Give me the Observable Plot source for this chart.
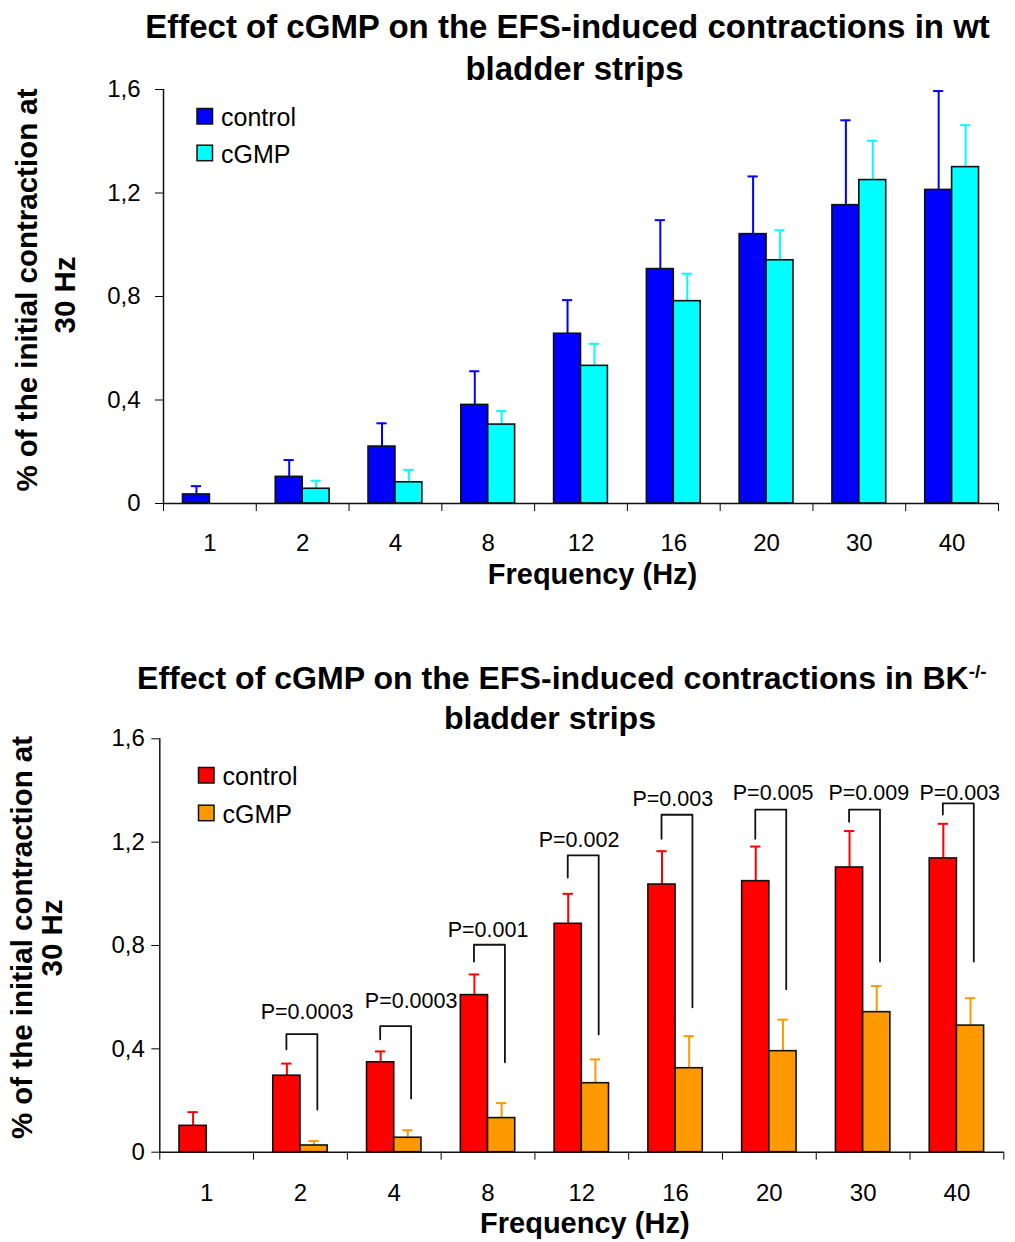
<!DOCTYPE html>
<html><head><meta charset="utf-8">
<script src="https://cdn.jsdelivr.net/npm/d3@7"></script>
<script src="https://cdn.jsdelivr.net/npm/@observablehq/plot@0.6"></script>
<style>
body{margin:0;background:#fff;}
#wrap{position:relative;width:1015px;height:1242px;overflow:hidden;font-family:"Liberation Sans",Arial,sans-serif;}
#wrap svg{position:absolute;left:0;}
</style></head><body><div id="wrap"></div>
<script>
// ---------- data ----------
const categories = ["1","2","4","8","12","16","20","30","40"];
const seriesNames = ["control","cGMP"];
const yTicks = [0, 0.4, 0.8, 1.2, 1.6];

// wt bladder strips
const wtControl    = [0.035,0.103,0.220,0.381,0.656,0.906,1.041,1.153,1.212];
const wtControlErr = [0.032,0.065,0.090,0.130,0.130,0.189,0.223,0.328,0.382];
const wtCgmp       = [0,    0.057,0.082,0.305,0.532,0.782,0.940,1.250,1.300];
const wtCgmpErr    = [0,    0.031,0.048,0.052,0.085,0.106,0.116,0.152,0.162];

// BK-/- bladder strips
const bkControl    = [0.102,0.296,0.348,0.608,0.884,1.036,1.049,1.102,1.137];
const bkControlErr = [0.053,0.047,0.042,0.080,0.116,0.129,0.134,0.141,0.134];
const bkCgmp       = [0,    0.026,0.056,0.132,0.267,0.325,0.391,0.542,0.490];
const bkCgmpErr    = [0,    0.017,0.029,0.058,0.092,0.124,0.122,0.101,0.106];

// significance annotations (BK-/-)
const pCategories     = ["2","4","8","12","16","20","30","40"];
const pLabels         = ["P=0.0003","P=0.0003","P=0.001","P=0.002","P=0.003","P=0.005","P=0.009","P=0.003"];
const bracketTop      = [0.457,0.488,0.803,1.149,1.306,1.326,1.326,1.350];
const bracketLeftEnd  = [0.398,0.437,0.738,1.063,1.213,1.213,1.279,1.307];
const bracketRightEnd = [0.165,0.208,0.348,0.456,0.561,0.631,0.738,0.738];
const pLabelY         = [0.541,0.585,0.858,1.207,1.368,1.390,1.390,1.390];
const pLabelShift     = [0.07,0.18,0,-0.03,-0.03,0.04,0.06,0.03];

// ---------- styling constants ----------
const FONT = "Liberation Sans, Arial, sans-serif";
const BW = 0.29;      // bar width in category units
const CAP = 0.055;    // half width of error caps
const LEG_L = -0.15, LEG_R = 0.18;

function rowsFor(values, errs) {
  return categories.map((c, i) => ({cat: c, i, value: values[i], err: errs[i]})).filter(d => d.value > 0);
}

function seriesMarks(rows, offsetSign, color) {
  const cx = d => d.i + offsetSign * BW / 2;
  return [
    Plot.ruleX(rows, {x: cx, y1: "value", y2: d => d.value + d.err, stroke: color, strokeWidth: 2}),
    Plot.ruleY(rows, {y: d => d.value + d.err, x1: d => cx(d) - CAP, x2: d => cx(d) + CAP, stroke: color, strokeWidth: 2}),
    Plot.rect(rows, {x1: d => offsetSign < 0 ? d.i - BW : d.i, x2: d => offsetSign < 0 ? d.i : d.i + BW,
      y1: 0, y2: "value", fill: color, stroke: "#111", strokeWidth: 1.6})
  ];
}

function makeChart({control, controlErr, cgmp, cgmpErr, colors, m, height, labelDy, titleDy, titleDx, extra = []}) {
  return Plot.plot({
    width: 1015, height,
    marginTop: m.top, marginBottom: m.bottom, marginLeft: m.left, marginRight: m.right,
    style: {fontFamily: FONT, fontSize: "24px", color: "#000", background: "transparent", overflow: "visible"},
    x: {domain: [-0.5, 8.5], ticks: d3.range(-0.5, 9, 1), tickFormat: () => "", tickSize: 8, label: null},
    y: {domain: [0, 1.6], ticks: yTicks, tickFormat: d => String(d).replace(".", ","), tickSize: 8, tickPadding: m.tickPad, label: null},
    marks: [
      ...seriesMarks(rowsFor(control, controlErr), -1, colors[0]),
      ...seriesMarks(rowsFor(cgmp, cgmpErr), 1, colors[1]),
      ...extra,
      Plot.ruleY([0], {stroke: "#111", strokeWidth: 1.5}),
      Plot.ruleX([-0.5], {stroke: "#111", strokeWidth: 1.5}),
      Plot.text(categories, {x: (d, i) => i, text: d => d, frameAnchor: "bottom", dy: labelDy, fontSize: 24}),
      Plot.text(["Frequency (Hz)"], {text: d => d, frameAnchor: "bottom", dy: titleDy, dx: titleDx, fontSize: 29, fontWeight: "bold"})
    ]
  });
}

// bracket annotations
const bracketPoints = [];
pCategories.forEach((c, k) => {
  const i = categories.indexOf(c);
  bracketPoints.push({k, x: i + LEG_L, y: bracketLeftEnd[k]});
  bracketPoints.push({k, x: i + LEG_L, y: bracketTop[k]});
  bracketPoints.push({k, x: i + LEG_R, y: bracketTop[k]});
  bracketPoints.push({k, x: i + LEG_R, y: bracketRightEnd[k]});
});
const pRows = pCategories.map((c, k) => ({x: categories.indexOf(c) + pLabelShift[k], y: pLabelY[k], t: pLabels[k]}));
const annotationMarks = [
  Plot.line(bracketPoints, {x: "x", y: "y", z: "k", stroke: "#111", strokeWidth: 1.8}),
  Plot.text(pRows, {x: "x", y: "y", text: "t", fontSize: 21.5})
];

const wrap = document.getElementById("wrap");

const chart1 = makeChart({
  control: wtControl, controlErr: wtControlErr, cgmp: wtCgmp, cgmpErr: wtCgmpErr,
  colors: ["#0000ff", "#00ffff"],
  m: {top: 89, bottom: 117, left: 163, right: 17, tickPad: 15},
  height: 620, labelDy: 47, titleDy: 80, titleDx: 11.5
});
chart1.style.top = "0px";
wrap.appendChild(chart1);

const chart2 = makeChart({
  control: bkControl, controlErr: bkControlErr, cgmp: bkCgmp, cgmpErr: bkCgmpErr,
  colors: ["#ff0000", "#ff9900"],
  m: {top: 98.3, bottom: 90.3, left: 159.3, right: 11.7, tickPad: 7},
  height: 602, labelDy: 49, titleDy: 81, titleDx: 3,
  extra: annotationMarks
});
chart2.style.top = "640px";
wrap.appendChild(chart2);

// ---------- overlay: titles, y titles, legends ----------
const ov = d3.select(wrap).append("svg")
  .attr("width", 1015).attr("height", 1242)
  .style("top", "0px").style("pointer-events", "none")
  .attr("font-family", FONT);

function title(x, y, size, txt, anchor = "middle") {
  return ov.append("text").attr("x", x).attr("y", y).attr("text-anchor", anchor)
    .attr("font-size", size).attr("font-weight", "bold").text(txt);
}
title(567.5, 38, 33, "Effect of cGMP on the EFS-induced contractions in wt");
title(574.5, 80, 33, "bladder strips");
const t2 = title(137, 688.6, 32.1, "Effect of cGMP on the EFS-induced contractions in BK", "start");
t2.append("tspan").attr("font-size", 19).attr("dy", -11).text("-/-");
title(550, 729, 32.1, "bladder strips");

function yTitle(x, y, txt) {
  ov.append("text").attr("transform", `translate(${x},${y}) rotate(-90)`)
    .attr("text-anchor", "middle").attr("font-size", 29.5).attr("font-weight", "bold").text(txt);
}
yTitle(37, 290, "% of the initial contraction at");
yTitle(75, 295, "30 Hz");
yTitle(31.7, 937.5, "% of the initial contraction at");
yTitle(61.7, 938, "30 Hz");

function legend(x, ys, colors) {
  seriesNames.forEach((name, j) => {
    ov.append("rect").attr("x", x).attr("y", ys[j] - 17.5).attr("width", 15.5).attr("height", 15.5)
      .attr("fill", colors[j]).attr("stroke", "#111").attr("stroke-width", 1.5);
    ov.append("text").attr("x", x + 24).attr("y", ys[j]).attr("font-size", 25).text(name);
  });
}
legend(197, [126, 162.7], ["#0000ff", "#00ffff"]);
legend(198.5, [785, 822.7], ["#ff0000", "#ff9900"]);
</script>
</body></html>
